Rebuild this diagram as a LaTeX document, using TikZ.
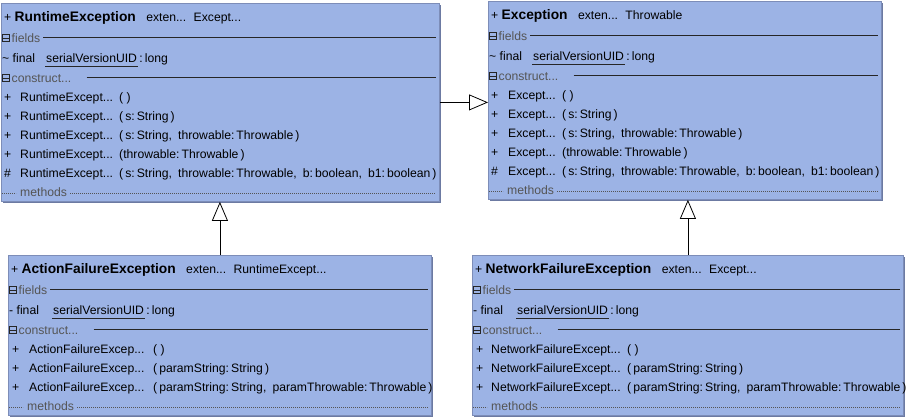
\documentclass[tikz,border=0pt]{standalone}
\usepackage{fontspec}
\setmainfont{Liberation Sans}
\usetikzlibrary{arrows.meta,positioning,calc,shadows}
\definecolor{boxfill}{HTML}{9CB3E5}
\definecolor{boxedge}{HTML}{7D8DB8}
\definecolor{boxshade}{HTML}{6C7AA2}
\definecolor{sectgray}{HTML}{555555}
\definecolor{ruleink}{HTML}{262626}
\newcommand{\trunc}{...}

\begin{document}
\begin{tikzpicture}[x=1pt,y=-1pt,
  every node/.style={font=\fontsize{12.2}{14}\selectfont,inner sep=0pt,anchor=base west},
  classbox/.style={draw=boxedge,fill=boxfill,line width=0.8pt,anchor=north west,
    drop shadow={shadow xshift=1.5pt,shadow yshift=-1.5pt,fill=boxshade,opacity=1}},
  sect/.style={text=sectgray},
  seprule/.style={ruleink,line width=0.7pt},
  dotrule/.style={sectgray,line width=0.6pt,dash pattern=on 0.8pt off 1.2pt},
  foldicon/.style={draw=ruleink,line width=0.6pt,minimum size=7.5pt,anchor=center},
  inherit/.style={-{Triangle[open,length=19pt,width=16pt]},line width=0.8pt}]
  \useasboundingbox (0,0) rectangle (907,416);

  % class frames and the rows every class shares
  \foreach \cls/\x/\y/\w/\n/\vis in {re/1/3/438/5/\textasciitilde, exc/488/1/393/5/\textasciitilde,
      afe/8/255/423/3/-, nfe/472/255/431/3/-} {
    \pgfmathsetmacro{\m}{98+19*\n}
    \begin{scope}[shift={(\x,\y)}]
      \node[classbox,minimum width=\w pt,minimum height={(\m+5)*1pt}] (\cls) at (0,0) {};
      % fields
      \node[foldicon] (\cls-fi) at (5,35) {};
      \draw[seprule] ([xshift=1.5pt]\cls-fi.west) -- ([xshift=-1.5pt]\cls-fi.east);
      \node[sect] (\cls-f) at (10.5,39) {fields};
      \draw[seprule] ($(\cls-f.base east)+(3,-5)$) -- ({\w-3},34);
      \node (\cls-v) at (1,59) {\vis{} final};
      \node (\cls-sv) at (45,59) {serialVersionUID};
      \draw[seprule] ($(\cls-sv.base west)+(-1,4)$) -- ($(\cls-sv.base east)+(1,4)$);
      \node[base right=2pt of \cls-sv] (\cls-st) {:\,long};
      % constructors
      \node[foldicon] (\cls-ci) at (5,75) {};
      \draw[seprule] ([xshift=1.5pt]\cls-ci.west) -- ([xshift=-1.5pt]\cls-ci.east);
      \node[sect] (\cls-c) at (10.5,79) {construct...};
      \draw[seprule] ($(\cls-c.base east)+(15,-5)$) -- ({\w-3},74);
      % methods (folded)
      \draw[dotrule] (1,{\m-3}) -- (15,{\m-3});
      \node[sect] (\cls-m) at (19,\m) {methods};
      \draw[dotrule] ($(\cls-m.base east)+(3,-3)$) -- ({\w-3},{\m-3});
    \end{scope}
  }

  % class headers
  \foreach \cls/\cname/\parent in {re/RuntimeException/Except\trunc, exc/Exception/Throwable,
      afe/ActionFailureException/RuntimeExcept\trunc, nfe/NetworkFailureException/Except\trunc} {
    \node (\cls-t) at ($(\cls.north west)+(3,18)$) {+ \textbf{\fontsize{13.8}{14}\selectfont\cname}};
    \node[base right=10pt of \cls-t] (\cls-e) {exten\trunc};
    \node[base right=7pt of \cls-e] (\cls-p) {\parent};
  }

  % constructor rows
  \foreach \cls/\cname/\nx/\px in {re/RuntimeExcept\trunc/19/118, exc/Except\trunc/20/74} {
    \foreach \s/\p [count=\i from 0] in {+/{( )}, +/{(\,s:\,String\,)},
        +/{(\,s:\,String,\enspace throwable:\,Throwable\,)}, +/{(throwable:\,Throwable\,)},
        \#/{(\,s:\,String,\enspace throwable:\,Throwable,\enspace b:\,boolean,\enspace b1:\,boolean\,)}} {
      \node (\cls-s\i) at ($(\cls.north west)+(3,{98+19*\i})$) {\s};
      \node (\cls-n\i) at ($(\cls.north west)+(\nx,{98+19*\i})$) {\cname};
      \node (\cls-p\i) at ($(\cls.north west)+(\px,{98+19*\i})$) {\p};
    }
  }
  \foreach \cls/\cname/\nx/\px in {afe/ActionFailureExcep\trunc/21/145, nfe/NetworkFailureExcept\trunc/19/155} {
    \foreach \p [count=\i from 0] in {{( )}, {(\,paramString:\,String\,)},
        {(\,paramString:\,String,\enspace paramThrowable:\,Throwable\,)}} {
      \node (\cls-s\i) at ($(\cls.north west)+(4,{98+19*\i})$) {+};
      \node (\cls-n\i) at ($(\cls.north west)+(\nx,{98+19*\i})$) {\cname};
      \node (\cls-p\i) at ($(\cls.north west)+(\px,{98+19*\i})$) {\p};
    }
  }

  % generalisation arrows
  \draw[inherit] (afe.north) -- (afe.north |- re.south);
  \draw[inherit] (nfe.north) -- (nfe.north |- exc.south);
  \draw[inherit] (re.east) -- (re.east -| exc.west);
\end{tikzpicture}
\end{document}
